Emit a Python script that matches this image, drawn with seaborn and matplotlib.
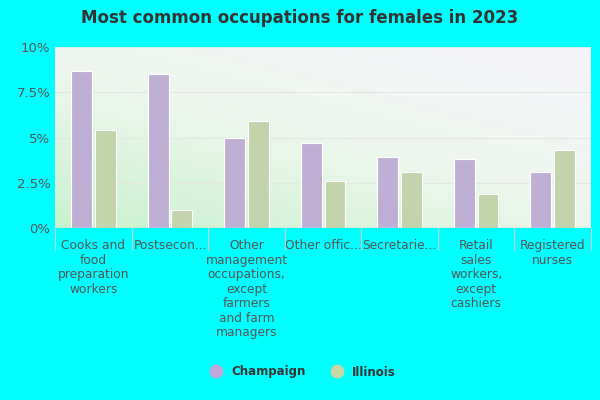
import numpy as np
import pandas as pd
import seaborn as sns
import matplotlib.pyplot as plt
from matplotlib.colors import LinearSegmentedColormap
from matplotlib.lines import Line2D

categories = ['Cooks and\nfood\npreparation\nworkers', 'Postsecon...',
              'Other\nmanagement\noccupations,\nexcept\nfarmers\nand farm\nmanagers',
              'Other offic...', 'Secretarie...', 'Retail\nsales\nworkers,\nexcept\ncashiers',
              'Registered\nnurses']
champaign = [8.7, 8.5, 5.0, 4.7, 3.9, 3.8, 3.1]
illinois = [5.4, 1.0, 5.9, 2.6, 3.1, 1.9, 4.3]
yticks = [0, 2.5, 5, 7.5, 10]
yticklabels = ['0%', '2.5%', '5%', '7.5%', '10%']

df = pd.DataFrame({
    'cat': categories * 2,
    'val': champaign + illinois,
    'place': ['Champaign'] * 7 + ['Illinois'] * 7,
})

fig = plt.figure(figsize=(6, 4), dpi=100, facecolor='#00ffff')
ax = fig.add_axes([0.092, 0.43, 0.893, 0.452])

# background gradient: green bottom-left to white/lavender top-right
gx, gy = np.meshgrid(np.linspace(0, 1, 200), np.linspace(0, 1, 200))
t = (gx * 0.6 + gy * 0.8) / 1.4
cmap = LinearSegmentedColormap.from_list('bg', ['#c8f2cc', '#eef7ee', '#f6f4fb'])
ax.imshow(t, cmap=cmap, origin='lower', extent=[-0.5, 6.5, 0, 10], aspect='auto', zorder=0)

sns.barplot(data=df, x='cat', y='val', hue='place', palette=['#bfa8dc', '#c4d9a6'],
            width=0.62, gap=0.12, edgecolor='white', linewidth=0.8, ax=ax, legend=False, zorder=2)

ax.set_xlim(-0.5, 6.5)
ax.set_ylim(0, 10)
ax.set_yticks(yticks)
ax.set_yticklabels(yticklabels, color='#555555', fontsize=9.5)
for y in yticks[1:]:
    ax.axhline(y, color='#e3e8e3', lw=0.8, zorder=1)
for s in ax.spines.values():
    s.set_visible(False)
ax.axhline(0, color='#cccccc', lw=1, zorder=3)
ax.tick_params(axis='both', length=0)
ax.tick_params(axis='x', pad=8)
ax.set_xticks(range(7))
ax.set_xticklabels(categories, color='#555555', fontsize=8.8, va='top', linespacing=1.15)
ax.set_xlabel('')
ax.set_ylabel('')
for i in range(8):
    ax.plot([i - 0.5, i - 0.5], [0, -1.2], color='#cccccc', lw=0.8, clip_on=False)

fig.text(0.5, 0.955, 'Most common occupations for females in 2023', ha='center', va='center',
         fontsize=12, fontweight='bold', color='#333333')

# legend
handles = [Line2D([], [], marker='o', ls='', markersize=9, color=c) for c in ['#bfa8dc', '#c4d9a6']]
fig.legend(handles, ['Champaign', 'Illinois'], loc='center', bbox_to_anchor=(0.5, 0.07), ncol=2,
           frameon=False, handletextpad=0.3, columnspacing=1.6,
           prop={'size': 8.5, 'weight': 'bold'}, labelcolor='#333333')

fig.savefig('out.png', dpi=100, facecolor=fig.get_facecolor())
